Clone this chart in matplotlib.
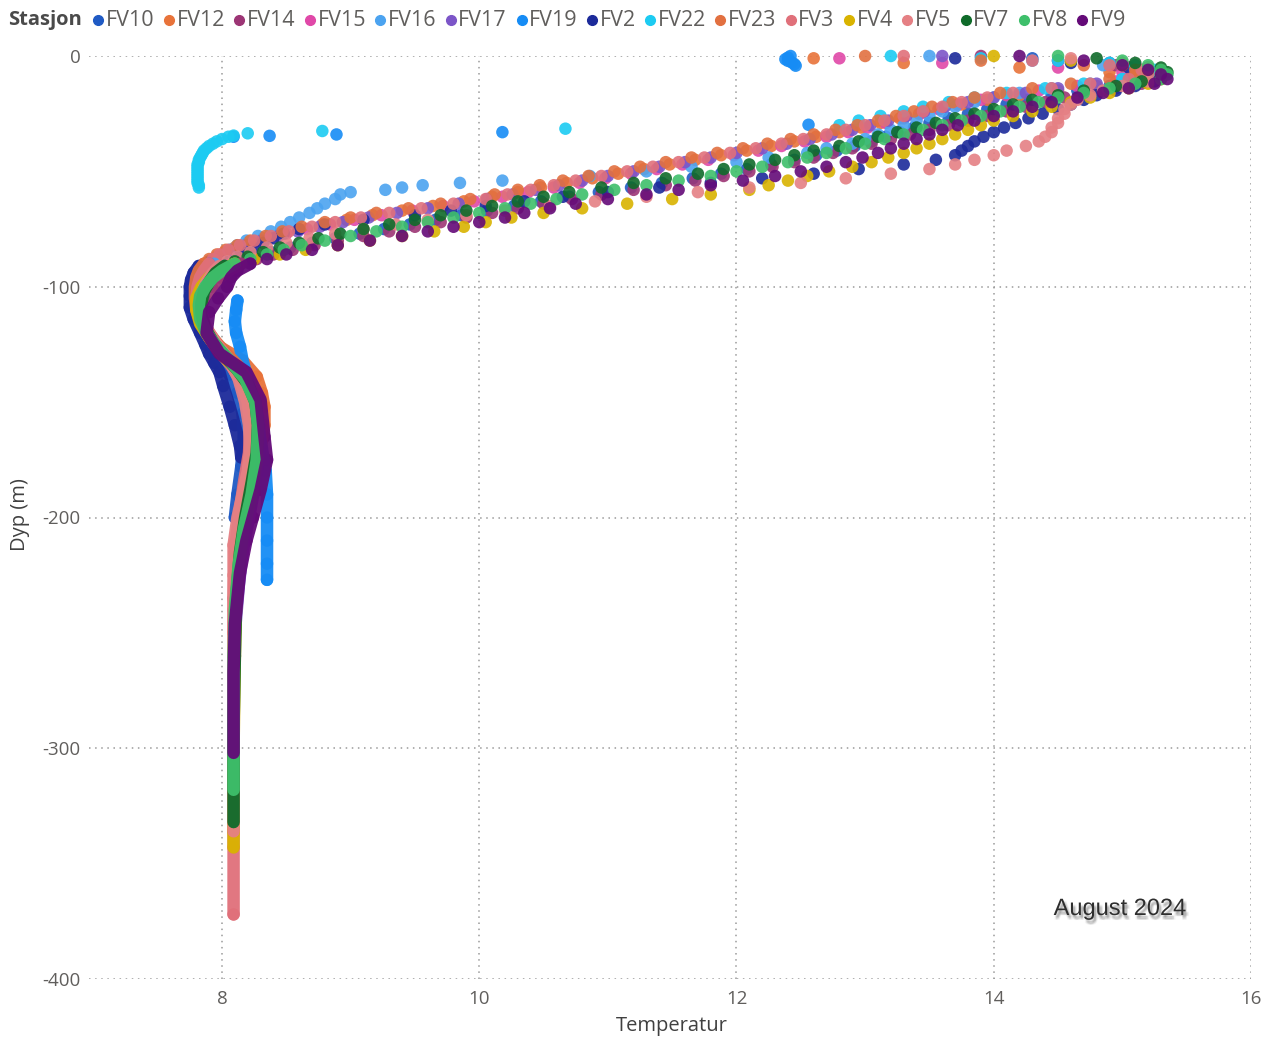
import matplotlib
matplotlib.use("Agg")
import matplotlib.pyplot as plt
import matplotlib.patheffects as pe
from matplotlib.lines import Line2D

plt.rcParams["axes.unicode_minus"] = False
plt.rcParams["font.family"] = ["Open Sans", "DejaVu Sans"]

# ---------------------------------------------------------------- data
stations = ["FV10", "FV12", "FV14", "FV15", "FV16", "FV17", "FV19", "FV2",
            "FV22", "FV23", "FV3", "FV4", "FV5", "FV7", "FV8", "FV9"]
colors = ["#1F5AC4", "#E8733A", "#9C3575", "#E048A8", "#4BA3F0", "#7C55C8",
          "#168CF5", "#1C2A9A", "#1CCBF2", "#E27040", "#E0707A", "#D9B300",
          "#E58084", "#0F6B2A", "#3EBF6B", "#640A78"]

# CTD sampling depths (m) for the upper water column
depth_even = [0, 2, 4, 6, 8, 10, 12, 14, 16, 18, 20, 22, 24, 26, 28, 30,
              32, 34, 36, 38, 40, 42, 44, 46, 48, 50, 52, 54, 56, 58, 60,
              62, 64, 66, 68, 70, 72, 74, 76, 78, 80, 82, 84, 86, 88, 90]
depth_odd = [1, 3, 5, 7, 9, 11, 13, 15, 17, 19, 21, 23, 25, 27, 29, 31,
             33, 35, 37, 39, 41, 43, 45, 47, 49, 51, 53, 55, 57, 59, 61,
             63, 65, 67, 69, 71, 73, 75, 77, 79, 81, 83, 85, 87, 89, 91]

# FV10 (odd depths)
fv10_temp = [14.3, 14.9, 15.2, 15.3, 15.25, 15.1, 14.9, 14.65, 14.45, 14.25,
             14.1, 13.95, 13.8, 13.65, 13.5, 13.38, 13.27, 13.16, 13.05, 12.92,
             12.78, 12.62, 12.45, 12.27, 12.08, 11.88, 11.66, 11.42, 11.18,
             10.93, 10.7, 10.48, 10.27, 10.06, 9.86, 9.66, 9.46, 9.26, 9.07,
             8.88, 8.7, 8.53, 8.38, 8.24, 8.12, 8.02]
fv10_deep_depth = [94, 98, 102, 107, 112, 118, 124, 130, 138, 146, 155, 165,
                   178, 190, 200]
fv10_deep_temp = [7.93, 7.86, 7.82, 7.8, 7.8, 7.83, 7.9, 7.98, 8.06, 8.12,
                  8.16, 8.17, 8.15, 8.12, 8.1]

# FV12 (odd depths)
fv12_temp = [12.6, 13.3, 14.2, 14.9, 15.1, 15.05, 14.8, 14.5, 14.2, 13.95,
             13.75, 13.58, 13.42, 13.27, 13.12, 12.97, 12.8, 12.62, 12.45,
             12.27, 12.08, 11.88, 11.68, 11.48, 11.28, 11.08, 10.88, 10.68,
             10.48, 10.3, 10.1, 9.88, 9.64, 9.4, 9.17, 8.97, 8.78, 8.6, 8.45,
             8.32, 8.2, 8.1, 8.02, 7.96, 7.92, 7.89]
fv12_deep_depth = [94, 98, 102, 106, 110, 115, 120, 126, 132, 139, 146, 152,
                   160, 170, 180, 192, 205, 220, 240, 260]
fv12_deep_temp = [7.87, 7.85, 7.84, 7.83, 7.83, 7.85, 7.9, 7.98, 8.16, 8.27,
                  8.31, 8.33, 8.33, 8.3, 8.26, 8.2, 8.15, 8.12, 8.1, 8.09]

# FV14 (even depths)
fv14_temp = [13.9, 14.5, 14.95, 15.2, 15.3, 15.3, 15.15, 14.95, 14.75, 14.55,
             14.4, 14.25, 14.1, 13.95, 13.8, 13.65, 13.5, 13.35, 13.2, 13.05,
             12.9, 12.75, 12.6, 12.45, 12.28, 12.1, 11.9, 11.68, 11.45, 11.2,
             10.95, 10.72, 10.5, 10.3, 10.1, 9.9, 9.7, 9.5, 9.3, 9.1, 8.9,
             8.72, 8.55, 8.4, 8.27, 8.15]
fv14_deep_depth = [93, 96, 100, 105, 110, 116, 122, 128, 134, 140, 150, 160,
                   172, 185, 200, 215, 230, 250, 270]
fv14_deep_temp = [8.05, 7.98, 7.92, 7.86, 7.83, 7.84, 7.9, 7.98, 8.08, 8.17,
                  8.25, 8.28, 8.28, 8.25, 8.2, 8.15, 8.12, 8.1, 8.09]

# FV15 (odd depths)
fv15_temp = [12.8, 13.6, 14.5, 15.0, 15.1, 14.95, 14.65, 14.35, 14.1, 13.9,
             13.72, 13.57, 13.43, 13.3, 13.16, 13.02, 12.87, 12.7, 12.53,
             12.35, 12.17, 11.98, 11.78, 11.58, 11.38, 11.18, 10.98, 10.78,
             10.58, 10.38, 10.18, 9.96, 9.72, 9.48, 9.24, 9.03, 8.84, 8.66,
             8.5, 8.36, 8.24, 8.13, 8.04, 7.97, 7.92, 7.88]
fv15_deep_depth = [94, 98, 102, 107, 112, 118, 124, 130, 137, 145, 155, 165,
                   178, 190, 205, 220, 240]
fv15_deep_temp = [7.85, 7.83, 7.82, 7.81, 7.82, 7.86, 7.93, 8.03, 8.13, 8.2,
                  8.25, 8.26, 8.24, 8.2, 8.15, 8.12, 8.1]

# FV16
fv16_depth = [0, 2, 4, 6, 8, 10, 12, 14, 16, 18, 20, 22, 24, 26, 28, 30, 32,
              34, 36, 38, 40, 42, 44, 46, 48, 50, 52, 54, 55, 56, 57, 58, 59,
              60, 62, 64, 66, 68, 70, 72, 74, 76, 78, 80, 82, 84, 86, 88, 90,
              93, 96, 100, 104]
fv16_temp = [13.5, 14.3, 14.85, 15.1, 15.15, 15.0, 14.75, 14.45, 14.2, 14.0,
             13.85, 13.7, 13.6, 13.5, 13.4, 13.3, 13.2, 13.1, 13.0, 12.9, 12.7,
             12.55, 12.25, 12.0, 11.65, 11.3, 10.86, 10.18, 9.85, 9.56, 9.4,
             9.27, 9.0, 8.92, 8.88, 8.8, 8.74, 8.68, 8.6, 8.53, 8.46, 8.38,
             8.28, 8.19, 8.12, 8.06, 8.01, 7.97, 7.94, 7.9, 7.88, 7.86, 7.85]

# FV17 (even depths)
fv17_temp = [13.6, 14.5, 15.0, 15.2, 15.2, 15.05, 14.8, 14.5, 14.25, 14.0,
             13.8, 13.62, 13.46, 13.32, 13.18, 13.04, 12.9, 12.74, 12.57,
             12.39, 12.2, 12.0, 11.8, 11.6, 11.4, 11.2, 11.0, 10.8, 10.62,
             10.44, 10.26, 10.06, 9.84, 9.6, 9.36, 9.14, 8.94, 8.76, 8.59,
             8.44, 8.31, 8.19, 8.09, 8.01, 7.95, 7.9]
fv17_deep_depth = [93, 96, 100, 105, 110, 116, 122, 128, 134, 140, 150, 160,
                   172, 185, 200, 215, 230, 250, 275]
fv17_deep_temp = [7.86, 7.84, 7.82, 7.81, 7.82, 7.85, 7.92, 8.0, 8.1, 8.18,
                  8.26, 8.29, 8.29, 8.26, 8.21, 8.16, 8.13, 8.1, 8.09]

# FV19
fv19_depth = [0, 0.7, 1.4, 2.1, 2.8, 3.5, 4.2, 29.8, 33.0, 34.0, 34.6, 35.0,
              106, 110, 115, 120, 126, 132, 140, 150, 160, 170, 180, 190, 200,
              210, 220, 227]
fv19_temp = [12.42, 12.4, 12.38, 12.4, 12.43, 12.45, 12.46, 12.56, 10.18,
             8.89, 8.37, 8.09, 8.12, 8.11, 8.1, 8.11, 8.14, 8.16, 8.2, 8.24,
             8.28, 8.31, 8.34, 8.35, 8.35, 8.35, 8.35, 8.35]

# FV2 (odd depths)
fv2_temp = [13.7, 14.6, 15.05, 15.25, 15.3, 15.25, 15.1, 14.95, 14.8, 14.7,
            14.6, 14.5, 14.38, 14.27, 14.17, 14.08, 14.0, 13.92, 13.85, 13.8,
            13.75, 13.7, 13.55, 13.3, 12.95, 12.6, 12.2, 11.8, 11.4, 11.0,
            10.65, 10.35, 10.05, 9.78, 9.5, 9.1, 8.8, 8.6, 8.48, 8.4, 8.32,
            8.24, 8.15, 8.0, 7.9, 7.82]
fv2_deep_depth = [94, 97, 100, 104, 109, 114, 120, 125, 129, 133, 137, 143,
                  152, 160, 169, 174]
fv2_deep_temp = [7.78, 7.76, 7.75, 7.75, 7.75, 7.78, 7.83, 7.87, 7.9, 7.94,
                 7.98, 8.01, 8.06, 8.1, 8.14, 8.15]

# FV22
fv22_depth = [0, 1, 2, 3, 4, 6, 8, 10, 12, 14, 16, 18, 20, 22, 24, 26, 28, 30,
              31.5, 32.5, 33.5, 34.5, 35, 36, 37, 38, 39, 40, 41, 42, 43, 44,
              45, 46, 47, 48, 49, 50, 51, 52, 53, 54, 55, 56, 57]
fv22_temp = [13.2, 13.9, 14.5, 14.9, 15.1, 15.25, 15.2, 15.0, 14.7, 14.4,
             14.1, 13.85, 13.65, 13.45, 13.3, 13.12, 12.95, 12.8, 10.67, 8.78,
             8.2, 8.09, 8.05, 8.0, 7.96, 7.93, 7.9, 7.88, 7.86, 7.85, 7.84,
             7.83, 7.82, 7.82, 7.81, 7.81, 7.81, 7.81, 7.81, 7.81, 7.81, 7.81,
             7.81, 7.82, 7.82]

# FV23 (even depths)
fv23_temp = [13.0, 13.9, 14.7, 15.1, 15.1, 14.9, 14.6, 14.3, 14.05, 13.85,
             13.68, 13.52, 13.38, 13.24, 13.1, 12.94, 12.77, 12.6, 12.42,
             12.24, 12.05, 11.85, 11.65, 11.45, 11.25, 11.05, 10.85, 10.65,
             10.47, 10.3, 10.12, 9.93, 9.7, 9.45, 9.2, 9.0, 8.8, 8.62, 8.47,
             8.34, 8.22, 8.12, 8.03, 7.96, 7.9, 7.86]
fv23_deep_depth = [93, 96, 100, 105, 110, 116, 122, 128, 134, 140, 150, 160,
                   172, 185, 200, 215, 230, 250]
fv23_deep_temp = [7.82, 7.8, 7.79, 7.79, 7.8, 7.84, 7.92, 8.02, 8.12, 8.19,
                  8.24, 8.25, 8.23, 8.19, 8.15, 8.12, 8.1, 8.09]

# FV3 (even depths)
fv3_temp = [13.3, 14.3, 14.9, 15.15, 15.2, 15.05, 14.75, 14.45, 14.15, 13.95,
            13.75, 13.6, 13.45, 13.3, 13.15, 13.0, 12.85, 12.7, 12.52, 12.35,
            12.15, 11.95, 11.75, 11.55, 11.35, 11.15, 10.95, 10.75, 10.58,
            10.4, 10.22, 10.05, 9.8, 9.55, 9.3, 9.08, 8.88, 8.7, 8.52, 8.38,
            8.25, 8.14, 8.05, 7.98, 7.93, 7.9]
fv3_deep_depth = [93, 96, 100, 105, 110, 116, 122, 128, 134, 140, 150, 160,
                  172, 185, 200, 215, 235, 260, 300, 336, 372]
fv3_deep_temp = [7.86, 7.83, 7.81, 7.8, 7.81, 7.84, 7.9, 7.98, 8.07, 8.14,
                 8.2, 8.22, 8.21, 8.17, 8.13, 8.1, 8.09, 8.09, 8.09, 8.09,
                 8.09]

# FV4 (even depths)
fv4_temp = [14.0, 14.6, 15.0, 15.2, 15.3, 15.3, 15.2, 15.05, 14.9, 14.75,
            14.6, 14.45, 14.3, 14.15, 14.0, 13.9, 13.8, 13.7, 13.6, 13.5,
            13.4, 13.3, 13.18, 13.05, 12.9, 12.72, 12.55, 12.4, 12.25, 12.1,
            11.8, 11.5, 11.15, 10.8, 10.5, 10.25, 10.05, 9.88, 9.65, 9.4,
            9.15, 8.9, 8.65, 8.45, 8.25, 8.1]
fv4_deep_depth = [93, 96, 100, 105, 110, 116, 122, 128, 134, 140, 150, 160,
                  172, 185, 200, 215, 235, 260, 300, 343]
fv4_deep_temp = [7.98, 7.9, 7.84, 7.8, 7.8, 7.83, 7.9, 7.98, 8.08, 8.16,
                 8.24, 8.26, 8.25, 8.22, 8.17, 8.13, 8.11, 8.1, 8.09, 8.09]

# FV5 (odd depths)
fv5_temp = [14.6, 15.0, 15.2, 15.3, 15.3, 15.2, 15.0, 14.85, 14.75, 14.65,
            14.6, 14.55, 14.55, 14.5, 14.5, 14.45, 14.45, 14.4, 14.35, 14.25,
            14.1, 14.0, 13.85, 13.7, 13.5, 13.2, 12.85, 12.5, 12.1, 11.7,
            11.3, 10.9, 10.55, 10.2, 9.9, 9.6, 9.35, 9.1, 8.88, 8.68, 8.5,
            8.35, 8.22, 8.12, 8.04, 7.98]
fv5_deep_depth = [94, 98, 102, 107, 112, 118, 125, 132, 140, 150, 160, 170,
                  180, 190, 200, 212, 225, 240, 260, 290, 336]
fv5_deep_temp = [7.93, 7.88, 7.85, 7.83, 7.84, 7.88, 7.96, 8.06, 8.13, 8.18,
                 8.21, 8.22, 8.2, 8.16, 8.12, 8.09, 8.09, 8.09, 8.09, 8.09,
                 8.09]

# FV7 (odd depths)
fv7_temp = [14.8, 15.1, 15.3, 15.35, 15.3, 15.15, 14.95, 14.7, 14.5, 14.3,
            14.15, 14.0, 13.85, 13.7, 13.55, 13.4, 13.25, 13.1, 12.95, 12.8,
            12.6, 12.45, 12.3, 12.1, 11.9, 11.7, 11.45, 11.2, 10.95, 10.7,
            10.5, 10.3, 10.1, 9.9, 9.7, 9.5, 9.3, 9.1, 8.92, 8.75, 8.6, 8.45,
            8.32, 8.2, 8.1, 8.02]
fv7_deep_depth = [94, 98, 102, 107, 112, 118, 124, 130, 136, 142, 150, 160,
                  172, 185, 200, 215, 235, 260, 290, 332]
fv7_deep_temp = [7.95, 7.9, 7.86, 7.84, 7.84, 7.87, 7.93, 8.02, 8.12, 8.2,
                 8.26, 8.28, 8.27, 8.23, 8.18, 8.14, 8.11, 8.1, 8.09, 8.09]

# FV8 (even depths)
fv8_temp = [14.5, 15.0, 15.2, 15.3, 15.35, 15.3, 15.1, 14.9, 14.7, 14.5,
            14.35, 14.2, 14.05, 13.9, 13.75, 13.6, 13.45, 13.3, 13.15, 13.0,
            12.85, 12.7, 12.55, 12.4, 12.2, 12.0, 11.8, 11.55, 11.3, 11.05,
            10.8, 10.6, 10.4, 10.2, 10.0, 9.8, 9.6, 9.4, 9.2, 9.0, 8.8, 8.62,
            8.48, 8.35, 8.22, 8.1]
fv8_deep_depth = [93, 96, 100, 104, 108, 114, 120, 126, 132, 140, 150, 160,
                  175, 190, 205, 220, 240, 260, 290, 318]
fv8_deep_temp = [8.0, 7.93, 7.87, 7.83, 7.82, 7.83, 7.88, 7.96, 8.06, 8.18,
                 8.26, 8.28, 8.27, 8.23, 8.17, 8.13, 8.1, 8.09, 8.09, 8.09]

# FV9 (even depths)
fv9_temp = [14.2, 14.7, 15.0, 15.2, 15.3, 15.35, 15.25, 15.05, 14.85, 14.65,
            14.45, 14.3, 14.15, 14.0, 13.85, 13.72, 13.6, 13.5, 13.4, 13.3,
            13.2, 13.1, 12.98, 12.85, 12.7, 12.5, 12.3, 12.05, 11.8, 11.55,
            11.3, 11.0, 10.75, 10.55, 10.35, 10.2, 10.0, 9.8, 9.6, 9.4, 9.15,
            8.9, 8.7, 8.5, 8.35, 8.22]
fv9_deep_depth = [93, 96, 100, 105, 111, 120, 129, 137, 149, 165, 175, 188,
                  200, 210, 224, 246, 267, 285, 302]
fv9_deep_temp = [8.12, 8.07, 8.04, 7.97, 7.9, 7.88, 7.98, 8.19, 8.3, 8.33,
                 8.35, 8.3, 8.24, 8.19, 8.14, 8.1, 8.09, 8.09, 8.09]

profiles = {
    "FV10": (depth_odd + fv10_deep_depth, fv10_temp + fv10_deep_temp),
    "FV12": (depth_odd + fv12_deep_depth, fv12_temp + fv12_deep_temp),
    "FV14": (depth_even + fv14_deep_depth, fv14_temp + fv14_deep_temp),
    "FV15": (depth_odd + fv15_deep_depth, fv15_temp + fv15_deep_temp),
    "FV16": (fv16_depth, fv16_temp),
    "FV17": (depth_even + fv17_deep_depth, fv17_temp + fv17_deep_temp),
    "FV19": (fv19_depth, fv19_temp),
    "FV2": (depth_odd + fv2_deep_depth, fv2_temp + fv2_deep_temp),
    "FV22": (fv22_depth, fv22_temp),
    "FV23": (depth_even + fv23_deep_depth, fv23_temp + fv23_deep_temp),
    "FV3": (depth_even + fv3_deep_depth, fv3_temp + fv3_deep_temp),
    "FV4": (depth_even + fv4_deep_depth, fv4_temp + fv4_deep_temp),
    "FV5": (depth_odd + fv5_deep_depth, fv5_temp + fv5_deep_temp),
    "FV7": (depth_odd + fv7_deep_depth, fv7_temp + fv7_deep_temp),
    "FV8": (depth_even + fv8_deep_depth, fv8_temp + fv8_deep_temp),
    "FV9": (depth_even + fv9_deep_depth, fv9_temp + fv9_deep_temp),
}

x_ticks = [8, 10, 12, 14, 16]
y_ticks = [0, -100, -200, -300, -400]

# ---------------------------------------------------------------- figure
W, H = 1272, 1042
fig = plt.figure(figsize=(W / 100, H / 100), dpi=100)
fig.patch.set_facecolor("white")
ax = fig.add_axes([89 / W, 1 - 979 / H, (1251 - 89) / W, (979 - 56) / H])

DOT = 9.0          # marker diameter in points
DENSE_FROM = 90    # below this depth the samples merge into a band

for name, col in zip(stations, colors):
    depth, temp = profiles[name]
    # continuous band for the densely sampled deep part
    deep_t = [t for d, t in zip(depth, temp) if d >= DENSE_FROM]
    deep_d = [-d for d in depth if d >= DENSE_FROM]
    if len(deep_t) > 1:
        ax.plot(deep_t, deep_d, color=col, lw=DOT, solid_capstyle="round",
                solid_joinstyle="round", alpha=0.95, clip_on=False)
    ax.scatter(temp, [-d for d in depth], s=DOT ** 2, color=col,
               edgecolors="none", alpha=0.9, clip_on=False)

ax.set_xlim(6.966, 16)
ax.set_ylim(-400, 0)
ax.set_xticks(x_ticks)
ax.set_yticks(y_ticks)
ax.set_xticklabels([str(v) for v in x_ticks])
ax.set_yticklabels([str(v) for v in y_ticks])
for s in ax.spines.values():
    s.set_visible(False)
ax.set_axisbelow(True)
ax.grid(True, linestyle=(0, (1, 3)), color="#9A9A9A", lw=1.1)
ax.tick_params(length=0, labelsize=13.5, labelcolor="#605E5C")
ax.tick_params(axis="x", pad=8)
ax.tick_params(axis="y", pad=6)

fig.text(672 / W, 1 - 1026 / H, "Temperatur", ha="center", va="center",
         fontsize=14.5, color="#404040")
fig.text(20 / W, 1 - 515 / H, "Dyp (m)", ha="center", va="center",
         rotation=90, fontsize=14.5, color="#404040")

# annotation with a soft, blurred-looking drop shadow
shadow = [pe.SimplePatchShadow(offset=o, shadow_rgbFace="black", alpha=0.045)
          for o in [(0.5, -1.5), (1.5, -1.5), (2.5, -1.5), (0.5, -2.5),
                    (1.5, -2.5), (2.5, -2.5), (0.5, -3.5), (1.5, -3.5),
                    (2.5, -3.5), (1.5, -2.0), (1.5, -3.0)]]
shadow.append(pe.Normal())
fig.text(1120 / W, 1 - 909 / H, "August 2024", ha="center", va="center",
         fontsize=17, color="#2E2E2E", family=["Liberation Sans", "DejaVu Sans"],
         path_effects=shadow)

# legend row
renderer = fig.canvas.get_renderer()
y_leg = 1 - 20 / H
t = fig.text(8 / W, y_leg, "Stasjon", ha="left", va="center", fontsize=14.5,
             fontweight="bold", color="#4A4A4A")
x = t.get_window_extent(renderer).x1 + 12
for name, col in zip(stations, colors):
    fig.add_artist(Line2D([(x + 4.5) / W], [y_leg], marker="o", ms=7,
                          color=col, linestyle="none",
                          transform=fig.transFigure))
    t = fig.text((x + 12) / W, y_leg, name, ha="left", va="center",
                 fontsize=15.5, color="#605E5C")
    x = t.get_window_extent(renderer).x1 + 10

fig.savefig("out.png", dpi=100, facecolor="white")
